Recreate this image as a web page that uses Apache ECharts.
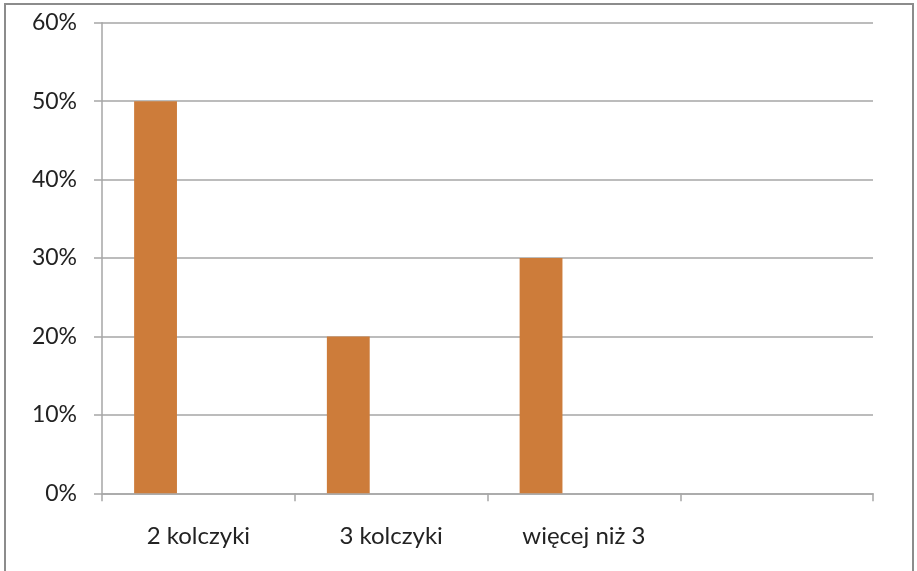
<!DOCTYPE html>
<html><head><meta charset="utf-8">
<script src="https://cdn.jsdelivr.net/npm/echarts@6/dist/echarts.min.js"></script>
<style>html,body{margin:0;padding:0;background:#fff;overflow:hidden}#c{width:917px;height:571px}</style>
</head><body><div id="c"></div>
<script>
const categories = ['2 kolczyki', '3 kolczyki', 'więcej niż 3', ''];
const seriesA = [50, 20, 30, null];
const seriesB = [null, null, null, null];
const seriesC = [null, null, null, null];
const yTicks = [0, 10, 20, 30, 40, 50, 60];

const chart = echarts.init(document.getElementById('c'), null, {renderer: 'canvas'});
const gray = '#a6a6a6';
chart.setOption({
  animation: false,
  backgroundColor: '#fff',
  graphic: [{
    type: 'rect', shape: {x: 5, y: 4, width: 908, height: 600},
    style: {fill: 'none', stroke: '#8c8c8c', lineWidth: 2}, z: 100
  }],
  grid: {left: 102, right: 44, top: 22.7, bottom: 77.7, containLabel: false},
  xAxis: {
    type: 'category', data: categories,
    axisLine: {lineStyle: {color: gray, width: 1.5}},
    axisTick: {show: true, length: 8, inside: false, alignWithLabel: false, lineStyle: {color: gray, width: 1.5}},
    axisLabel: {color: '#222', fontFamily: 'Lato', fontSize: 24, margin: 31, interval: 0}
  },
  yAxis: {
    type: 'value', min: yTicks[0], max: yTicks[yTicks.length - 1], interval: 10,
    axisLine: {show: true, lineStyle: {color: gray, width: 1.5}},
    axisTick: {show: true, length: 8, lineStyle: {color: gray, width: 1.5}},
    splitLine: {show: true, lineStyle: {color: gray, width: 1.5}},
    axisLabel: {color: '#222', fontFamily: 'Lato', fontSize: 23, margin: 25, formatter: v => v + '%'}
  },
  series: [
    {type: 'bar', data: seriesA, barGap: '0%', barCategoryGap: '33.33%', itemStyle: {color: '#cd7c3a'}},
    {type: 'bar', data: seriesB, barGap: '0%', barCategoryGap: '33.33%', itemStyle: {color: '#cd7c3a'}},
    {type: 'bar', data: seriesC, barGap: '0%', barCategoryGap: '33.33%', itemStyle: {color: '#cd7c3a'}}
  ]
});
</script></body></html>
